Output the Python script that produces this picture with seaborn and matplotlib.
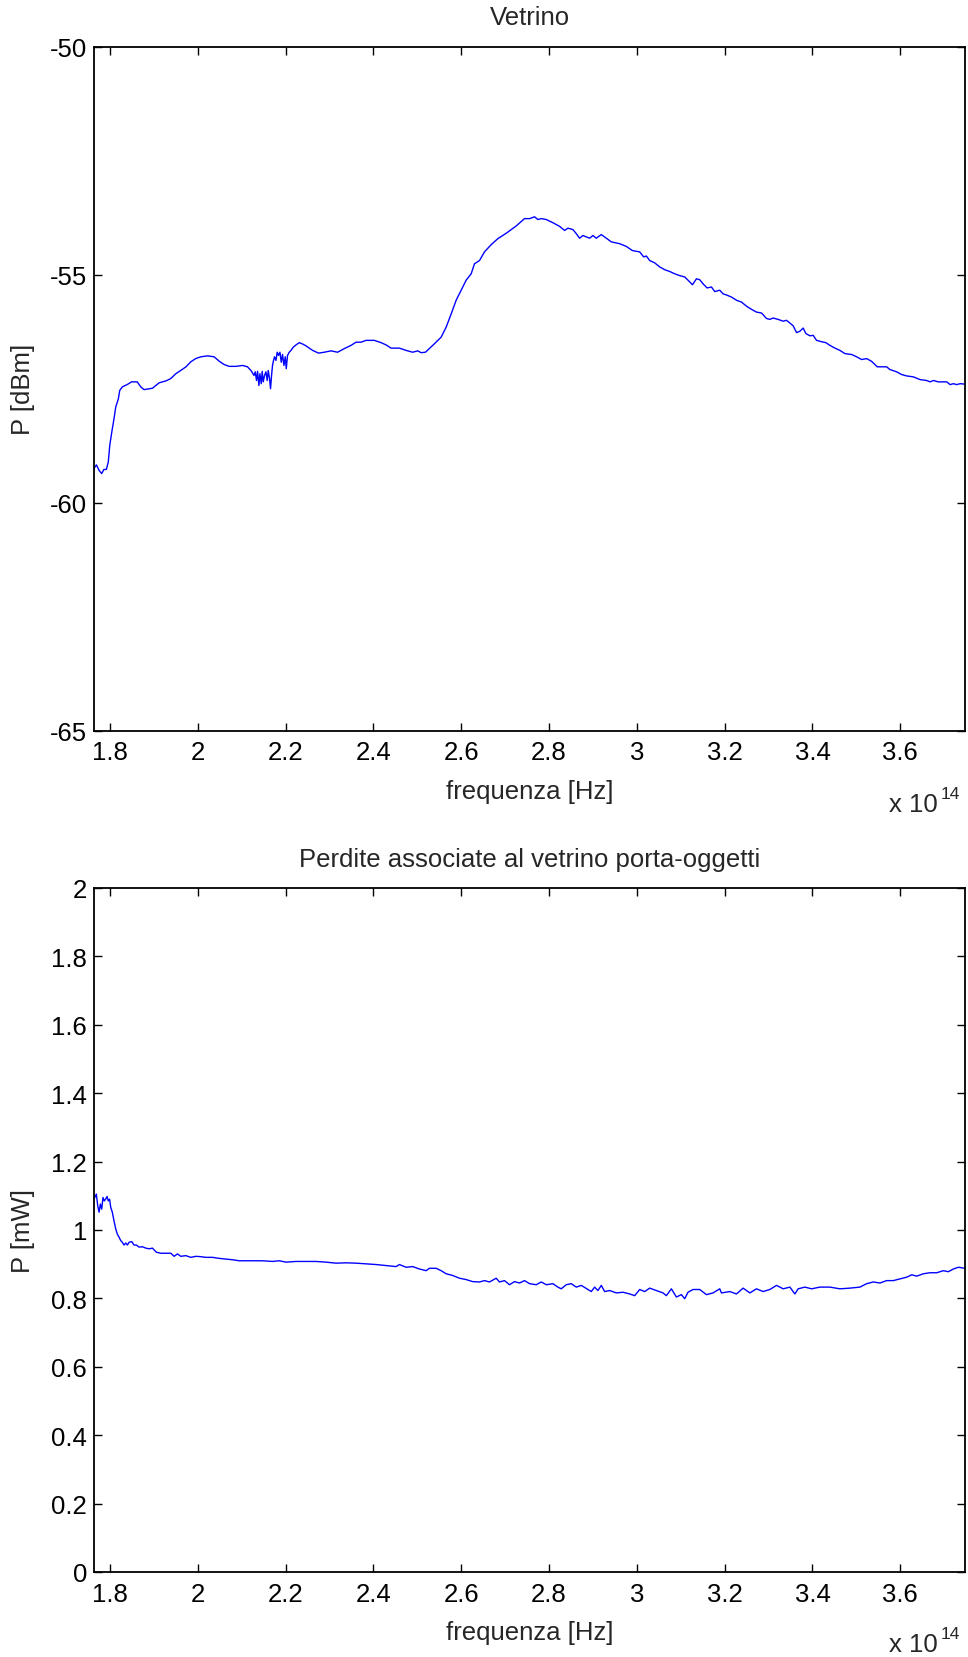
import numpy as np
import pandas as pd
import matplotlib
matplotlib.use("Agg")
import matplotlib.pyplot as plt
import seaborn as sns

# Frequency axis values are in units of 1e14 Hz
freq_dbm = [
    1.7635, 1.7690, 1.7750, 1.7810, 1.7860, 1.7916, 1.7960, 1.7994, 1.8040, 1.8090,
    1.8130, 1.8190, 1.8220, 1.8280, 1.8390, 1.8490, 1.8620, 1.8700, 1.8775, 1.8965,
    1.9120, 1.9270, 1.9380, 1.9500, 1.9610, 1.9730, 1.9840, 1.9950, 2.0070, 2.0220,
    2.0370, 2.0490, 2.0600, 2.0710, 2.0870, 2.1020, 2.1130, 2.1210, 2.1280, 2.1307,
    2.1337, 2.1360, 2.1391, 2.1414, 2.1444, 2.1466, 2.1489, 2.1519, 2.1551, 2.1580,
    2.1603, 2.1633, 2.1656, 2.1679, 2.1701, 2.1724, 2.1747, 2.1779, 2.1808, 2.1838,
    2.1870, 2.1900, 2.1929, 2.1961, 2.1991, 2.2014, 2.2043, 2.2082, 2.2121, 2.2173,
    2.2235, 2.2310, 2.2386, 2.2463, 2.2614, 2.2751, 2.2880, 2.3033, 2.3184, 2.3337,
    2.3489, 2.3603, 2.3717, 2.3831, 2.4021, 2.4174, 2.4288, 2.4402, 2.4591, 2.4743,
    2.4894, 2.5008, 2.5086, 2.5184, 2.5350, 2.5542, 2.5656, 2.5770, 2.5884, 2.5998,
    2.6112, 2.6226, 2.6301, 2.6415, 2.6529, 2.6682, 2.6833, 2.7025, 2.7253, 2.7441,
    2.7556, 2.7670, 2.7745, 2.7822, 2.7936, 2.8087, 2.8240, 2.8354, 2.8429, 2.8543,
    2.8620, 2.8696, 2.8771, 2.8848, 2.8924, 2.9000, 2.9076, 2.9190, 2.9304, 2.9418,
    2.9608, 2.9760, 2.9897, 3.0064, 3.0155, 3.0216, 3.0292, 3.0406, 3.0520, 3.0634,
    3.0748, 3.0862, 3.0976, 3.1090, 3.1165, 3.1266, 3.1357, 3.1432, 3.1508, 3.1599,
    3.1699, 3.1774, 3.1888, 3.1964, 3.2055, 3.2155, 3.2269, 3.2383, 3.2497, 3.2611,
    3.2725, 3.2839, 3.2953, 3.3028, 3.3104, 3.3218, 3.3332, 3.3409, 3.3485, 3.3560,
    3.3637, 3.3713, 3.3788, 3.3850, 3.3941, 3.4016, 3.4093, 3.4207, 3.4305, 3.4397,
    3.4511, 3.4625, 3.4739, 3.4891, 3.5005, 3.5119, 3.5233, 3.5347, 3.5476, 3.5575,
    3.5689, 3.5765, 3.5918, 3.6032, 3.6146, 3.6297, 3.6449, 3.6602, 3.6677, 3.6753,
    3.6867, 3.7058, 3.7134, 3.7209, 3.7286, 3.7362, 3.7474,
]
power_dbm = [
    -59.25, -59.17, -59.29, -59.36, -59.27, -59.27, -59.11, -58.74, -58.45, -58.16,
    -57.90, -57.72, -57.54, -57.46, -57.41, -57.35, -57.35, -57.46, -57.52, -57.49,
    -57.37, -57.33, -57.28, -57.17, -57.10, -57.02, -56.91, -56.84, -56.80, -56.78,
    -56.80, -56.90, -56.97, -57.01, -57.01, -56.99, -57.02, -57.10, -57.21, -57.13,
    -57.32, -57.12, -57.43, -57.17, -57.39, -57.12, -57.35, -57.21, -57.13, -57.32,
    -57.10, -57.28, -57.50, -57.21, -56.99, -56.88, -56.80, -56.88, -56.70, -56.77,
    -56.70, -56.92, -56.75, -56.99, -56.80, -57.06, -56.77, -56.70, -56.66, -56.59,
    -56.54, -56.49, -56.52, -56.56, -56.66, -56.72, -56.70, -56.67, -56.70, -56.62,
    -56.55, -56.48, -56.48, -56.44, -56.44, -56.49, -56.54, -56.61, -56.61, -56.66,
    -56.70, -56.67, -56.71, -56.70, -56.55, -56.37, -56.15, -55.86, -55.56, -55.34,
    -55.12, -54.98, -54.76, -54.69, -54.50, -54.34, -54.21, -54.09, -53.93, -53.77,
    -53.77, -53.73, -53.79, -53.77, -53.79, -53.86, -53.94, -54.03, -53.98, -54.01,
    -54.10, -54.20, -54.14, -54.17, -54.20, -54.14, -54.20, -54.12, -54.20, -54.28,
    -54.32, -54.38, -54.47, -54.50, -54.61, -54.59, -54.69, -54.74, -54.83, -54.89,
    -54.93, -54.98, -55.02, -55.05, -55.12, -55.22, -55.09, -55.11, -55.20, -55.29,
    -55.27, -55.37, -55.34, -55.42, -55.45, -55.49, -55.56, -55.60, -55.69, -55.76,
    -55.82, -55.84, -55.96, -55.98, -55.95, -55.98, -56.02, -56.00, -56.06, -56.12,
    -56.27, -56.24, -56.17, -56.29, -56.34, -56.33, -56.44, -56.47, -56.49, -56.55,
    -56.61, -56.66, -56.73, -56.75, -56.80, -56.86, -56.84, -56.90, -57.02, -57.02,
    -57.02, -57.08, -57.13, -57.19, -57.22, -57.24, -57.30, -57.32, -57.35, -57.32,
    -57.35, -57.35, -57.41, -57.39, -57.41, -57.39, -57.40,
]

freq_mw = [
    1.7635, 1.7688, 1.7720, 1.7750, 1.7780, 1.7810, 1.7840, 1.7870, 1.7900, 1.7932,
    1.7960, 1.7990, 1.8016, 1.8052, 1.8090, 1.8130, 1.8166, 1.8205, 1.8244, 1.8280,
    1.8319, 1.8358, 1.8395, 1.8433, 1.8495, 1.8547, 1.8600, 1.8661, 1.8737, 1.8814,
    1.8889, 1.8965, 1.9056, 1.9156, 1.9270, 1.9384, 1.9460, 1.9535, 1.9612, 1.9726,
    1.9840, 1.9954, 2.0068, 2.0182, 2.0333, 2.0486, 2.0638, 2.0789, 2.0942, 2.1095,
    2.1245, 2.1473, 2.1701, 2.1854, 2.2007, 2.2235, 2.2463, 2.2691, 2.2919, 2.3147,
    2.3375, 2.3603, 2.3831, 2.4059, 2.4287, 2.4515, 2.4591, 2.4743, 2.4894, 2.5047,
    2.5200, 2.5275, 2.5428, 2.5542, 2.5656, 2.5806, 2.5959, 2.6112, 2.6262, 2.6415,
    2.6529, 2.6643, 2.6796, 2.6871, 2.6985, 2.7099, 2.7213, 2.7327, 2.7441, 2.7555,
    2.7708, 2.7822, 2.7936, 2.8087, 2.8201, 2.8277, 2.8391, 2.8505, 2.8620, 2.8734,
    2.8862, 2.8962, 2.9038, 2.9113, 2.9190, 2.9266, 2.9380, 2.9532, 2.9683, 2.9836,
    2.9950, 3.0064, 3.0178, 3.0292, 3.0444, 3.0595, 3.0672, 3.0786, 3.0900, 3.1014,
    3.1090, 3.1165, 3.1279, 3.1432, 3.1584, 3.1735, 3.1888, 3.1927, 3.2116, 3.2269,
    3.2420, 3.2573, 3.2725, 3.2876, 3.3029, 3.3181, 3.3333, 3.3485, 3.3599, 3.3674,
    3.3827, 3.3979, 3.4169, 3.4397, 3.4625, 3.4853, 3.5081, 3.5233, 3.5385, 3.5537,
    3.5689, 3.5841, 3.5993, 3.6146, 3.6260, 3.6374, 3.6525, 3.6677, 3.6830, 3.6981,
    3.7095, 3.7209, 3.7323, 3.7474,
]
power_mw = [
    1.090, 1.105, 1.071, 1.052, 1.076, 1.061, 1.095, 1.085, 1.090, 1.098,
    1.085, 1.090, 1.066, 1.052, 1.027, 1.003, 0.988, 0.979, 0.969, 0.964,
    0.956, 0.962, 0.956, 0.964, 0.966, 0.956, 0.956, 0.950, 0.951, 0.947,
    0.945, 0.947, 0.935, 0.932, 0.932, 0.932, 0.923, 0.930, 0.923, 0.925,
    0.920, 0.923, 0.922, 0.920, 0.920, 0.917, 0.915, 0.913, 0.910, 0.910,
    0.910, 0.910, 0.908, 0.910, 0.906, 0.908, 0.908, 0.908, 0.906, 0.903,
    0.904, 0.903, 0.901, 0.899, 0.896, 0.893, 0.899, 0.891, 0.893, 0.886,
    0.881, 0.888, 0.888, 0.881, 0.872, 0.867, 0.859, 0.855, 0.849, 0.848,
    0.852, 0.848, 0.859, 0.848, 0.852, 0.840, 0.849, 0.845, 0.852, 0.843,
    0.840, 0.848, 0.840, 0.843, 0.833, 0.828, 0.840, 0.843, 0.833, 0.838,
    0.828, 0.820, 0.833, 0.823, 0.838, 0.820, 0.823, 0.816, 0.818, 0.813,
    0.808, 0.826, 0.820, 0.830, 0.823, 0.816, 0.808, 0.828, 0.804, 0.811,
    0.799, 0.818, 0.826, 0.826, 0.811, 0.816, 0.828, 0.816, 0.820, 0.813,
    0.830, 0.816, 0.828, 0.820, 0.826, 0.838, 0.828, 0.833, 0.813, 0.828,
    0.833, 0.828, 0.833, 0.833, 0.828, 0.830, 0.833, 0.843, 0.848, 0.845,
    0.852, 0.852, 0.857, 0.862, 0.869, 0.865, 0.872, 0.875, 0.875, 0.881,
    0.878, 0.886, 0.891, 0.888,
]

x_ticks = [1.8, 2.0, 2.2, 2.4, 2.6, 2.8, 3.0, 3.2, 3.4, 3.6]
y_ticks_dbm = [-65, -60, -55, -50]
y_ticks_mw = [0, 0.2, 0.4, 0.6, 0.8, 1.0, 1.2, 1.4, 1.6, 1.8, 2.0]

# 1700 nm .. 800 nm expressed as frequency (1e14 Hz)
x_limits = (1.76348, 3.74741)

sns.set_style("white")
plt.rcParams["font.family"] = ["Liberation Sans", "DejaVu Sans"]

fig = plt.figure(figsize=(9.68, 16.58), dpi=100)
ax_top = fig.add_axes([0.09711, 0.55868, 0.89979, 0.41255])
ax_bot = fig.add_axes([0.09711, 0.05127, 0.89979, 0.41255])

df_top = pd.DataFrame({"f": freq_dbm, "p": power_dbm})
df_bot = pd.DataFrame({"f": freq_mw, "p": power_mw})

sns.lineplot(data=df_top, x="f", y="p", ax=ax_top, color="#0000ff",
             linewidth=1.0, estimator=None, sort=False)
sns.lineplot(data=df_bot, x="f", y="p", ax=ax_bot, color="#0000ff",
             linewidth=1.0, estimator=None, sort=False)

FS = 18.5


def style_axes(ax, yticks, ylim, title, ylabel, exp_y, sup_y):
    ax.set_xlim(*x_limits)
    ax.set_ylim(*ylim)
    ax.set_xticks(x_ticks)
    ax.set_yticks(yticks)
    ax.set_xticklabels([f"{v:g}" for v in x_ticks])
    ax.set_yticklabels([f"{v:g}" for v in yticks])
    ax.tick_params(axis="both", which="both", direction="in", top=True,
                   right=True, bottom=True, left=True, length=6,
                   width=1.0, color="black", labelsize=FS, colors="black")
    ax.tick_params(axis="x", pad=7)
    ax.tick_params(axis="y", pad=5)
    for sp in ax.spines.values():
        sp.set_visible(True)
        sp.set_color("black")
        sp.set_linewidth(1.3)
    ax.set_title(title, fontsize=FS, y=1.043, pad=0, va="center")
    ax.set_xlabel("frequenza [Hz]", fontsize=FS, va="center")
    ax.xaxis.set_label_coords(0.5, -0.088)
    ax.set_ylabel(ylabel, fontsize=FS, va="center")
    ax.yaxis.set_label_coords(-0.081, 0.5)
    ax.text(0.969, exp_y, "x 10", transform=ax.transAxes, fontsize=FS,
            ha="right", va="center")
    ax.text(0.9725, sup_y, "14", transform=ax.transAxes, fontsize=12.5,
            ha="left", va="center")


style_axes(ax_top, y_ticks_dbm, (-65, -50), "Vetrino", "P [dBm]", -0.107, -0.0915)
style_axes(ax_bot, y_ticks_mw, (0, 2), "Perdite associate al vetrino porta-oggetti",
           "P [mW]", -0.105, -0.0895)

fig.savefig("out.png", dpi=100, facecolor="white")
